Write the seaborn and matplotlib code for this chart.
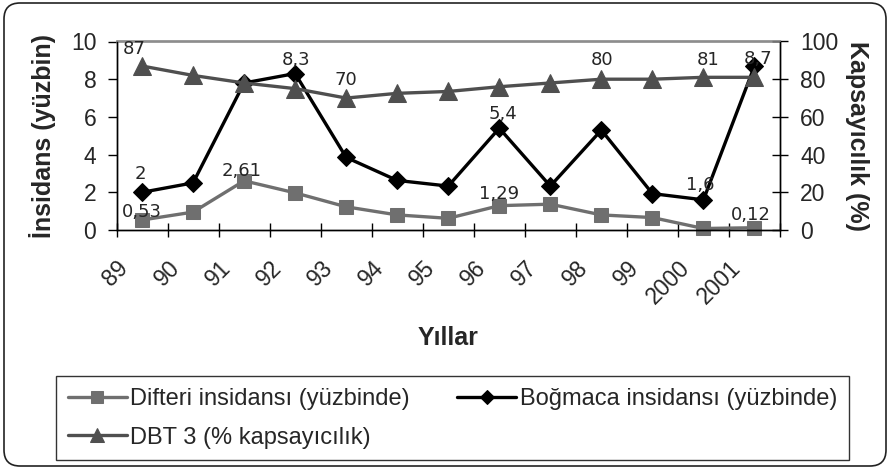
import numpy as np
import pandas as pd
import matplotlib
matplotlib.use('Agg')
import matplotlib.pyplot as plt
import matplotlib.transforms as mtransforms
from matplotlib.patches import FancyBboxPatch
import seaborn as sns

#-- Data:

years = ['89', '90', '91', '92', '93', '94', '95', '96', '97', '98', '99', '2000', '2001']
difteri = [0.53, 0.95, 2.61, 1.97, 1.23, 0.8, 0.62, 1.29, 1.37, 0.8, 0.66, 0.08, 0.12]
bogmaca = [2, 2.5, 7.8, 8.3, 3.85, 2.63, 2.33, 5.4, 2.33, 5.3, 1.93, 1.6, 8.7]
dbt = [87, 82, 78, 75, 70, 72.5, 73.5, 76, 78, 80, 80, 81, 81]

labels = ['Difteri insidansı (yüzbinde)', 'Boğmaca insidansı (yüzbinde)', 'DBT 3 (% kapsayıcılık)']

# which points carry a value label, with (dx, dy) pixel offsets
difteri_lbl = {0: (0, 8), 2: (-2, 10), 7: (0, 12), 12: (-4, 13)}
bogmaca_lbl = {0: (-2, 18), 3: (1, 14), 7: (4, 14), 11: (-3, 15), 12: (4, 7)}
dbt_lbl = {0: (-8, 17), 4: (0, 18), 9: (1, 19), 11: (5, 17)}

df = pd.DataFrame({'pos': np.arange(len(years)), 'year': years,
                   'difteri': difteri, 'bogmaca': bogmaca, 'dbt': dbt})

#-- Style:

sns.set_style('ticks')
plt.rcParams['font.family'] = ['Liberation Sans', 'DejaVu Sans']

c_dif = '#6f6f6f'
c_bog = '#000000'
c_dbt = '#4f4f4f'

fig = plt.figure(figsize=(8.9, 4.68), dpi=100)
ax = fig.add_axes([116.5 / 890, 1 - 230 / 468, (780 - 116.5) / 890, (230 - 41.5) / 468])
ax2 = ax.twinx()

sns.lineplot(data=df, x='pos', y='difteri', ax=ax, color=c_dif, marker='s', markersize=10,
             markeredgecolor=c_dif, linewidth=2.4, clip_on=False, label=labels[0], legend=False)
sns.lineplot(data=df, x='pos', y='bogmaca', ax=ax, color=c_bog, marker='D', markersize=9,
             markeredgecolor=c_bog, linewidth=2.4, clip_on=False, label=labels[1], legend=False)
sns.lineplot(data=df, x='pos', y='dbt', ax=ax2, color=c_dbt, marker='^', markersize=13,
             markeredgecolor=c_dbt, linewidth=2.4, clip_on=False, label=labels[2], legend=False)

#-- Axes:

n = len(years)
ax.set_xlim(-0.5, n - 0.5)
ax.set_ylim(0, 10)
ax2.set_ylim(0, 100)
ax.set_yticks(range(0, 11, 2))
ax2.set_yticks(range(0, 101, 20))

ax.set_xticks(np.arange(n + 1) - 0.5)
ax.set_xticklabels([])
ax.set_xticks(np.arange(n), labels=years, minor=True)
ax.tick_params(axis='x', which='major', direction='inout', length=10, width=1, color='black')
ax.tick_params(axis='x', which='minor', length=0, pad=19, labelsize=16.5)
offset = mtransforms.ScaledTranslation(-9 / 100, 0, fig.dpi_scale_trans)
for t in ax.get_xticklabels(minor=True):
    t.set_rotation(45)
    t.set_ha('right')
    t.set_va('top')
    t.set_transform(t.get_transform() + offset)

ax.tick_params(axis='y', direction='out', length=6.5, width=1, pad=8, labelsize=16.5, color='black')
ax2.tick_params(axis='y', direction='inout', length=12, width=1, pad=8.5, labelsize=16.5, color='black')

for a in (ax, ax2):
    for s in ('left', 'right', 'bottom'):
        a.spines[s].set_color('black')
        a.spines[s].set_linewidth(1)
    a.spines['top'].set_color('#8a8a8a')
    a.spines['top'].set_linewidth(1.2)

ax.set_xlabel('Yıllar', fontsize=18, fontweight='bold')
ax.xaxis.set_label_coords((448 - 116.5) / 663.5, -(326 - 230) / 188.5)
ax.set_ylabel('İnsidans (yüzbin)', fontsize=18, fontweight='bold')
ax.yaxis.set_label_coords((56 - 116.5) / 663.5, 0.5)
ax2.set_ylabel('Kapsayıcılık (%)', fontsize=18, fontweight='bold', rotation=-90, va='center')
ax2.yaxis.set_label_coords((857 - 116.5) / 663.5, 0.5)

#-- Value labels:

def fmt(v):
    return f'{v:g}'.replace('.', ',')

for target, vals, lbl in ((ax, difteri, difteri_lbl), (ax, bogmaca, bogmaca_lbl), (ax2, dbt, dbt_lbl)):
    for i, (dx, dy) in lbl.items():
        target.annotate(fmt(vals[i]), (i, vals[i]), xytext=(dx, dy), textcoords='offset pixels',
                        ha='center', va='center', fontsize=13, family=['DejaVu Sans'],
                        annotation_clip=False, zorder=10)

#-- Legend:

h1, l1 = ax.get_legend_handles_labels()
h2, l2 = ax2.get_legend_handles_labels()
handles = [h1[0], h2[0], h1[1]]
names = [l1[0], l2[0], l1[1]]
leg = fig.legend(handles, names, loc='upper left', ncol=2, mode='expand',
                 bbox_to_anchor=(56 / 890, 1 - 381 / 468, (849 - 56) / 890, 0.01),
                 fontsize=17, frameon=True, fancybox=False, edgecolor='black',
                 handlelength=2.5, handletextpad=0.15, labelspacing=0.7,
                 borderpad=0.5, borderaxespad=0, markerscale=0.8)
leg.get_frame().set_linewidth(1)

#-- Chart border:

border = FancyBboxPatch((0.04, 0.02), 8.82, 4.63, boxstyle='round,pad=0,rounding_size=0.16',
                        transform=fig.dpi_scale_trans, fill=False, linewidth=1.2, edgecolor='#222222')
fig.add_artist(border)

fig.savefig('out.png', dpi=100)
